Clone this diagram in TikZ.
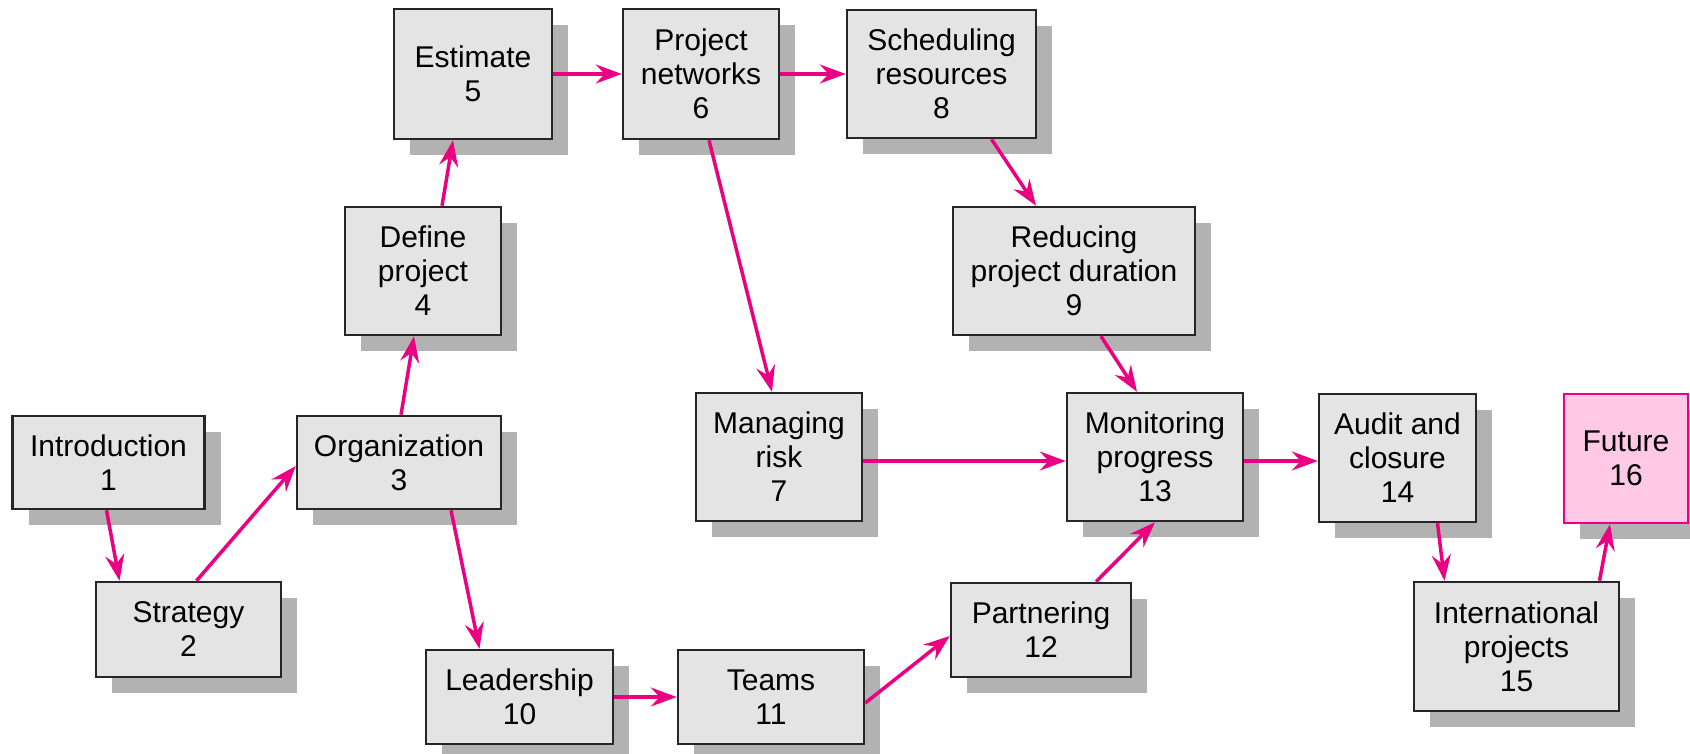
\documentclass[tikz,border=0pt]{standalone}
\usepackage{fontspec}
\setmainfont{Liberation Sans}
\usepackage{xcolor}
\usetikzlibrary{arrows.meta,shadows}

\definecolor{linkpink}{RGB}{236,0,130}
\definecolor{boxgray}{RGB}{228,228,228}
\definecolor{shadegray}{RGB}{178,178,178}
\definecolor{futurepink}{RGB}{255,200,228}

\begin{document}
\begin{tikzpicture}[x=1pt,y=-1pt]
    \tikzstyle{B}=[rectangle,draw=black!85,line width=2.5pt,fill=boxgray,align=center,inner sep=0pt,font=\fontsize{30}{34}\selectfont,drop shadow={shadow xshift=16pt,shadow yshift=-16pt,fill=shadegray,opacity=1}]
    \tikzstyle{P}=[B,draw=linkpink,fill=futurepink]
    \tikzstyle{A}=[draw=linkpink,line width=3.5pt,-{Stealth[length=26pt,width=19pt,inset=9pt]}]

   \useasboundingbox (0,0) rectangle (1690,754);

   \node [B,minimum width=192pt,minimum height=93pt] (intro) at (108.5,462.5) {Introduction\\1};
   \node [B,minimum width=185pt,minimum height=95pt] (strat) at (188.5,629.5) {Strategy\\2};
   \node [B,minimum width=204pt,minimum height=93pt] (org) at (399,462.5) {Organization\\3};
   \node [B,minimum width=156pt,minimum height=128pt] (define) at (423,271) {Define\\project\\4};
   \node [B,minimum width=158pt,minimum height=130pt] (est) at (473,74) {Estimate\\5};
   \node [B,minimum width=156pt,minimum height=130pt] (net) at (701,74) {Project\\networks\\6};
   \node [B,minimum width=166pt,minimum height=128pt] (risk) at (779,457) {Managing\\risk\\7};
   \node [B,minimum width=189pt,minimum height=128pt] (sched) at (941.5,74) {Scheduling\\resources\\8};
   \node [B,minimum width=242pt,minimum height=128pt] (reduce) at (1074,271) {Reducing\\project duration\\9};
   \node [B,minimum width=187pt,minimum height=94pt] (lead) at (519.5,697) {Leadership\\10};
   \node [B,minimum width=186pt,minimum height=94pt] (teams) at (771,697) {Teams\\11};
   \node [B,minimum width=180pt,minimum height=94pt] (partner) at (1041,630) {Partnering\\12};
   \node [B,minimum width=176pt,minimum height=128pt] (monitor) at (1155,457) {Monitoring\\progress\\13};
   \node [B,minimum width=157pt,minimum height=128pt] (audit) at (1397.5,458) {Audit and\\closure\\14};
   \node [B,minimum width=205pt,minimum height=129pt] (intl) at (1516.5,646.5) {International\\projects\\15};
   \node [P,minimum width=124pt,minimum height=129pt] (future) at (1626,458.5) {Future\\16};

   \draw [A] ([xshift=-2pt]intro.south) -- ([xshift=-69pt]strat.north);
   \draw [A] ([xshift=8pt]strat.north) -- ([yshift=-3.5pt]org.west);
   \draw [A] ([xshift=2pt]org.north) -- ([xshift=-9pt]define.south);
   \draw [A] ([xshift=19pt]define.north) -- ([xshift=-20pt]est.south);
   \draw [A] (est.east) -- (net.west);
   \draw [A] (net.east) -- (sched.west);
   \draw [A] ([xshift=8pt]net.south) -- ([xshift=-7pt]risk.north);
   \draw [A] ([xshift=50pt]sched.south) -- ([xshift=-38pt]reduce.north);
   \draw [A] ([xshift=27pt]reduce.south) -- ([xshift=-18pt]monitor.north);
   \draw [A] ([yshift=-4pt]risk.east) -- ([yshift=-4pt]monitor.west);
   \draw [A] ([yshift=-4pt]monitor.east) -- ([yshift=-3pt]audit.west);
   \draw [A] ([xshift=52pt]org.south) -- ([xshift=-40pt]lead.north);
   \draw [A] (lead.east) -- (teams.west);
   \draw [A] ([yshift=-6pt]teams.east) -- ([yshift=-6pt]partner.west);
   \draw [A] ([xshift=55pt]partner.north) -- (monitor.south);
   \draw [A] ([xshift=40pt]audit.south) -- ([xshift=-72pt]intl.north);
   \draw [A] ([xshift=83pt]intl.north) -- ([xshift=-16pt]future.south);
\end{tikzpicture}
\end{document}
